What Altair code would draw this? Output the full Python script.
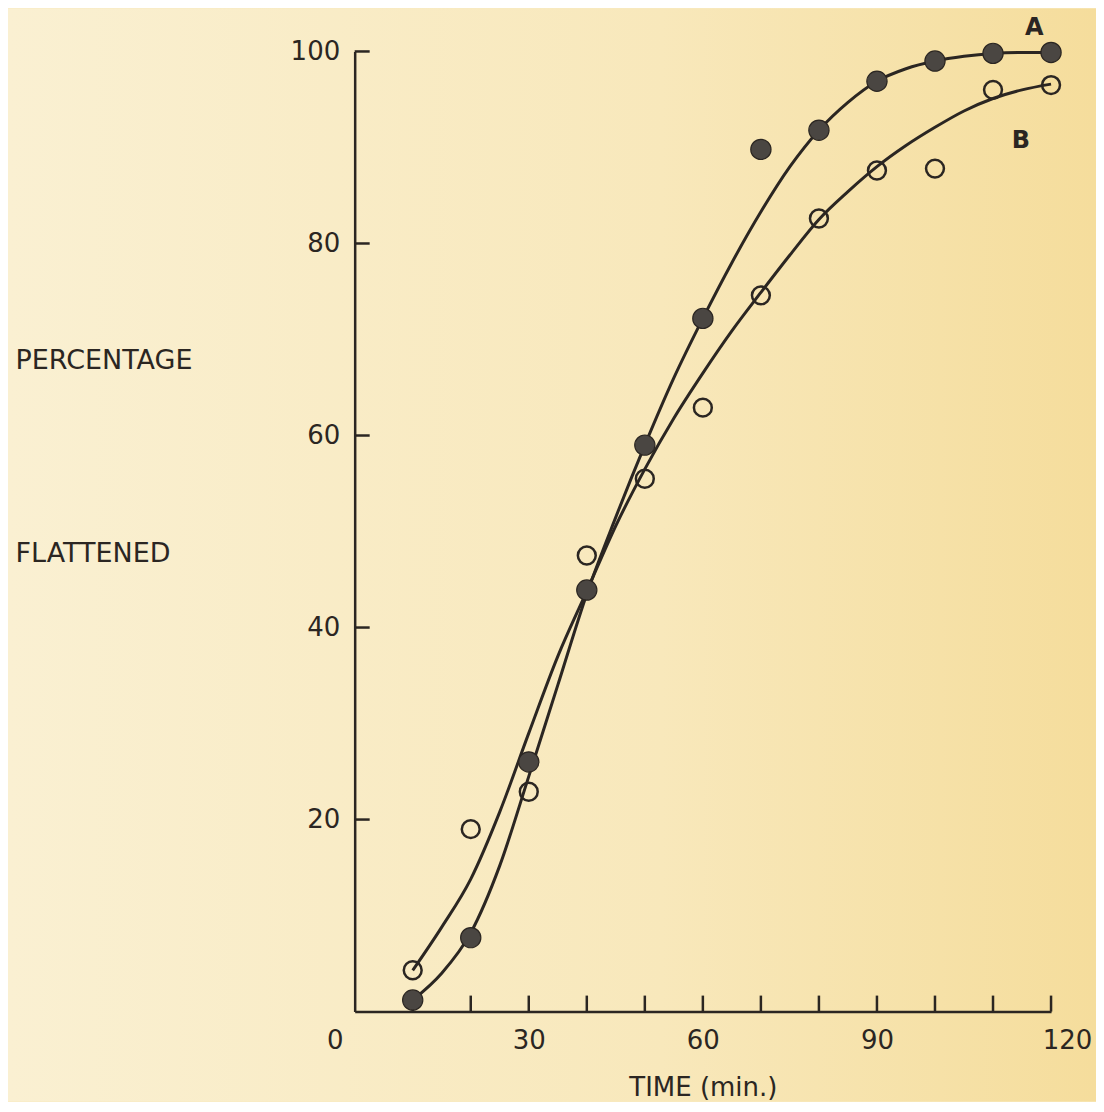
import altair as alt
import pandas as pd

# ---- data ----
time_pts = [10, 20, 30, 40, 50, 60, 70, 80, 90, 100, 110, 120]
a_pts = [1.2, 7.7, 26.0, 43.9, 59.0, 72.2, 89.8, 91.8, 96.9, 99.0, 99.8, 99.9]
b_pts = [4.3, 19.0, 22.9, 47.5, 55.5, 62.9, 74.6, 82.6, 87.6, 87.8, 96.0, 96.5]

curve_x = [10, 15, 20, 25, 30, 35, 40, 45, 50, 55, 60, 65, 70, 75, 80, 85, 90, 95, 100, 105, 110, 115, 120]
curve_a = [1.2, 4.0, 8.2, 15.2, 24.5, 34.0, 43.5, 51.5, 59.0, 66.0, 72.2, 78.0, 83.3, 88.0, 91.8, 94.7, 96.9, 98.2, 99.0, 99.5, 99.8, 99.9, 99.9]
curve_b = [4.3, 8.8, 13.8, 20.8, 29.0, 37.0, 43.8, 50.6, 56.5, 61.8, 66.5, 70.9, 74.9, 78.8, 82.5, 85.4, 88.0, 90.2, 92.1, 93.8, 95.1, 96.0, 96.6]

x_ticks = [10, 20, 30, 40, 50, 60, 70, 80, 90, 100, 110, 120]
y_ticks = [20, 40, 60, 80, 100]
x_labels = [0, 30, 60, 90, 120]

curve_names = ["A", "B"]
curve_name_x = [117.1, 114.8]
curve_name_y = [102.4, 90.7]

# ---- style ----
PAPER = "#f8eac0"
INK = "#2b2622"
DOT = "#4a4642"
FONT = "DejaVu Sans"
W, H = 697, 961
PL, PT, PR, PB = 347, 43, 45, 90

pts = pd.DataFrame({"t": time_pts, "a": a_pts, "b": b_pts})
crv = pd.DataFrame({"t": curve_x, "a": curve_a, "b": curve_b})
xt = pd.DataFrame({"t": x_ticks})
yt = pd.DataFrame({"v": y_ticks})
names = pd.DataFrame({"n": curve_names, "t": curve_name_x, "v": curve_name_y})
one = pd.DataFrame({"k": [0]})

xs = alt.Scale(domain=[0, 120], nice=False, zero=False)
ys = alt.Scale(domain=[0, 100], nice=False)

x_axis = alt.Axis(
    values=x_labels, ticks=False, grid=False, labelFlush=False, zindex=1,
    domainColor=INK, domainWidth=2.5,
    labelFont=FONT, labelFontSize=26, labelColor=INK, labelPadding=16,
    labelOffset={"condition": [{"test": "datum.value == 0", "value": -20},
                               {"test": "datum.value == 120", "value": 16}],
                 "value": 0},
    title="TIME (min.)", titleFont=FONT, titleFontSize=26, titleFontWeight="normal",
    titleColor=INK, titlePadding=21,
)
y_axis = alt.Axis(
    values=y_ticks, ticks=False, grid=False, labelFlush=False, zindex=1,
    domainColor=INK, domainWidth=2.5,
    labelFont=FONT, labelFontSize=26, labelColor=INK, labelPadding=15,
    title=["PERCENTAGE", "FLATTENED"], titleFont=FONT, titleFontSize=27,
    titleFontWeight="normal", titleColor=INK, titleAngle=0, titleAlign="left",
    titleBaseline="alphabetic", titleLineHeight=194, titleX=-340, titleY=317,
)

paper = alt.Chart(one).mark_rect(
    fill=alt.LinearGradient(
        gradient="linear",
        stops=[alt.GradientStop(offset=0, color="#faf0d2"),
               alt.GradientStop(offset=0.6, color="#f8e8bb"),
               alt.GradientStop(offset=1, color="#f5dd9c")],
        x1=0, x2=1, y1=0, y2=0,
    )
).encode(
    x=alt.value(-PL), x2=alt.value(W + PR), y=alt.value(-PT), y2=alt.value(H + PB)
)

line_a = alt.Chart(crv).mark_line(color=INK, strokeWidth=3, interpolate="monotone").encode(
    x=alt.X("t:Q", scale=xs, axis=x_axis), y=alt.Y("a:Q", scale=ys, axis=y_axis)
)
line_b = alt.Chart(crv).mark_line(color=INK, strokeWidth=3, interpolate="monotone").encode(
    x=alt.X("t:Q", scale=xs), y=alt.Y("b:Q", scale=ys)
)
dots_a = alt.Chart(pts).mark_circle(size=410, fill=DOT, stroke=INK, strokeWidth=1.2, opacity=1).encode(
    x=alt.X("t:Q", scale=xs), y=alt.Y("a:Q", scale=ys)
)
dots_b = alt.Chart(pts).mark_point(shape="circle", size=320, filled=False, color=INK, strokeWidth=2.5, opacity=1).encode(
    x=alt.X("t:Q", scale=xs), y=alt.Y("b:Q", scale=ys)
)
xtick = alt.Chart(xt).mark_rule(color=INK, strokeWidth=2.5).encode(
    x=alt.X("t:Q", scale=xs), y=alt.value(H), y2=alt.value(H - 16)
)
ytick = alt.Chart(yt).mark_rule(color=INK, strokeWidth=2.5).encode(
    y=alt.Y("v:Q", scale=ys), x=alt.value(0), x2=alt.value(15)
)
labels = alt.Chart(names).mark_text(font=FONT, fontSize=24, fontWeight="bold", color=INK).encode(
    x=alt.X("t:Q", scale=xs), y=alt.Y("v:Q", scale=ys), text="n:N"
)

chart = alt.layer(paper, line_a, line_b, xtick, ytick, dots_a, dots_b, labels).properties(
    width=W, height=H,
    background=PAPER,
    padding={"left": PL, "top": PT, "right": PR, "bottom": PB},
    autosize=alt.AutoSizeParams(type="none"),
).configure_view(stroke=None)

chart.save("out.html", embed_options={"renderer": "svg", "actions": False})
